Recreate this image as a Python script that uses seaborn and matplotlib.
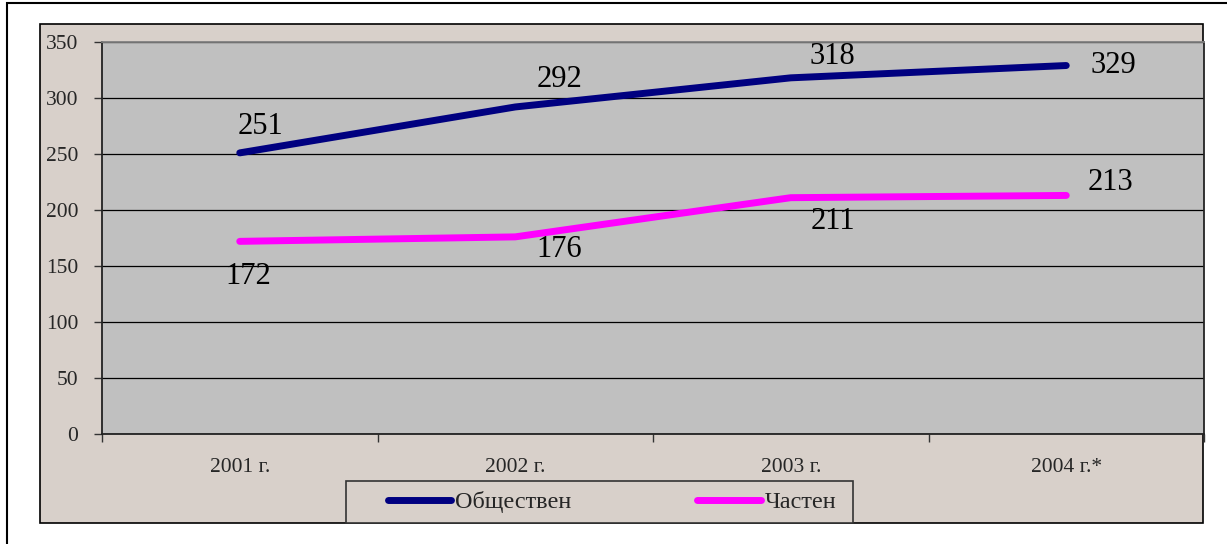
import matplotlib
matplotlib.use("Agg")
import matplotlib.pyplot as plt
import pandas as pd
import seaborn as sns
from matplotlib.patches import Rectangle
from matplotlib.ticker import FixedLocator, NullFormatter, FixedFormatter

years = ["2001 г.", "2002 г.", "2003 г.", "2004 г.*"]
public = [251, 292, 318, 329]
private = [172, 176, 211, 213]
series_names = ["Обществен", "Частен"]

COLORS = {"Обществен": "#000080", "Частен": "#FF00FF"}
# label offsets in pixels from the point
PUB_OFFSETS = [(21, 26), (44, 27), (42, 21), (47, 0)]
PRIV_OFFSETS = [(8, -35), (44, -13), (42, -24), (44, 13)]

sns.set_theme(style="white")
plt.rcParams["font.family"] = ["Liberation Serif", "DejaVu Serif"]

df = pd.DataFrame({
    "year": years * 2,
    "value": public + private,
    "series": [series_names[0]] * 4 + [series_names[1]] * 4,
})

W, H = 1227, 544
fig = plt.figure(figsize=(W / 100, H / 100), dpi=100)
fig.patch.set_facecolor("white")

# outer frame
fig.add_artist(Rectangle((7 / W, -0.2), 1.2, 1.2 - 3 / H, transform=fig.transFigure,
                         fill=False, edgecolor="#000000", lw=1.5))
# chart area
fig.add_artist(Rectangle((40 / W, (H - 523) / H), 1163 / W, 499 / H, transform=fig.transFigure,
                         facecolor="#D8D0CA", edgecolor="#000000", lw=1.2, zorder=0))
# legend box
fig.add_artist(Rectangle((346 / W, (H - 523) / H), 507 / W, 42 / H, transform=fig.transFigure,
                         facecolor="#D8D0CA", edgecolor="#333333", lw=1.2, zorder=0.5))

ax = fig.add_axes([102 / W, (H - 434) / H, 1102 / W, 392 / H])
ax.set_facecolor("#C0C0C0")
ax.set_zorder(1)

sns.lineplot(data=df, x="year", y="value", hue="series", palette=COLORS,
             lw=5, ax=ax, legend=False, sort=False)
for ln in ax.lines:
    ln.set_solid_capstyle("round")

ax.set_xlim(-0.5, 3.5)
ax.set_ylim(0, 350)
ax.set_yticks(range(0, 351, 50))
ax.yaxis.grid(True, color="#000000", lw=0.9)
ax.set_axisbelow(True)

ax.xaxis.set_major_locator(FixedLocator([-0.5, 0.5, 1.5, 2.5, 3.5]))
ax.xaxis.set_major_formatter(NullFormatter())
ax.xaxis.set_minor_locator(FixedLocator([0, 1, 2, 3]))
ax.xaxis.set_minor_formatter(FixedFormatter(years))
ax.tick_params(axis="x", which="major", direction="out", length=6, width=1, color="#333333", bottom=True)
ax.tick_params(axis="x", which="minor", length=0, pad=17, labelsize=15.5)
ax.tick_params(axis="y", direction="out", length=6, width=1, color="#333333", left=True,
               pad=11, labelsize=15.5)
ax.set_xlabel("")
ax.set_ylabel("")

for side in ["left", "bottom", "right"]:
    ax.spines[side].set_color("#222222")
    ax.spines[side].set_linewidth(1.3)
ax.spines["top"].set_color("#808080")
ax.spines["top"].set_linewidth(1.3)

for i, v in enumerate(public):
    ax.annotate(str(v), (i, v), xytext=PUB_OFFSETS[i], textcoords="offset pixels",
                ha="center", va="center", fontsize=22, color="black")
for i, v in enumerate(private):
    ax.annotate(str(v), (i, v), xytext=PRIV_OFFSETS[i], textcoords="offset pixels",
                ha="center", va="center", fontsize=22, color="black")

handles = [plt.Line2D([], [], color=COLORS[n], lw=5, solid_capstyle="round") for n in series_names]
leg = fig.legend(handles, series_names, loc="center left",
                 bbox_to_anchor=(388 / W, (H - 502) / H),
                 ncol=2, frameon=False, fontsize=17.5, handlelength=2.6,
                 handletextpad=0.15, borderpad=0, borderaxespad=0, columnspacing=5.2)
leg.set_zorder(2)

fig.savefig("out.png", dpi=100)
plt.close(fig)
